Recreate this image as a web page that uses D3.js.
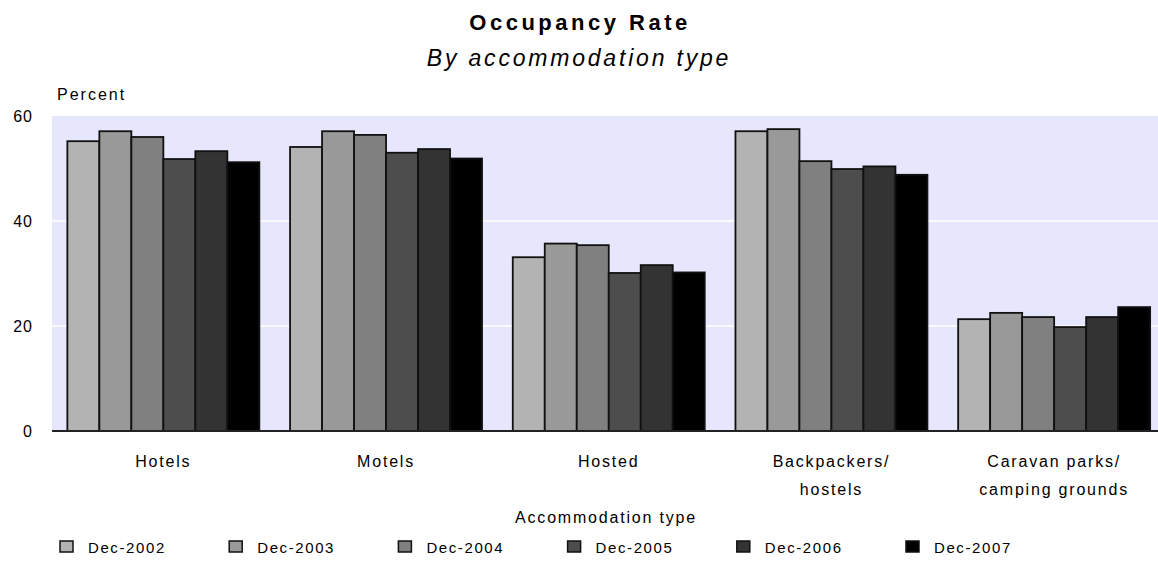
<!DOCTYPE html>
<html>
<head>
<meta charset="utf-8">
<script src="https://cdn.jsdelivr.net/npm/d3@7"></script>
<style>
  body { margin: 0; background: #fff; }
  text { font-family: "Liberation Sans", Arial, sans-serif; fill: #000; }
</style>
</head>
<body>
<div id="chart"></div>
<script>
// Chart data
let categories = ["Hotels", "Motels", "Hosted", "Backpackers/|hostels", "Caravan parks/|camping grounds"];
let years = ["Dec-2002", "Dec-2003", "Dec-2004", "Dec-2005", "Dec-2006", "Dec-2007"];
let dec2002 = [55.2, 54.1, 33.1, 57.1, 21.3];
let dec2003 = [57.1, 57.1, 35.7, 57.5, 22.5];
let dec2004 = [56.0, 56.4, 35.4, 51.4, 21.7];
let dec2005 = [51.8, 53.0, 30.1, 49.9, 19.8];
let dec2006 = [53.3, 53.7, 31.6, 50.4, 21.7];
let dec2007 = [51.2, 51.9, 30.2, 48.8, 23.6];
let yTicks = [0, 20, 40, 60];
let colors = ["#b3b3b3", "#999999", "#808080", "#4d4d4d", "#333333", "#000000"];

let seriesValues = [dec2002, dec2003, dec2004, dec2005, dec2006, dec2007];

let svgWidth = 1158;
let svgHeight = 584;

let plot = { left: 52, right: 1165.5, top: 116, bottom: 431 };

let svg = d3.select("#chart")
  .append("svg")
  .attr("width", svgWidth)
  .attr("height", svgHeight);

// Scales
let xScale = d3.scaleBand()
  .domain(categories)
  .range([plot.left, plot.right])
  .paddingInner(0.138)
  .paddingOuter(0.069);

let xInner = d3.scaleBand()
  .domain(years)
  .range([0, xScale.bandwidth()]);

let yScale = d3.scaleLinear()
  .domain([0, 60])
  .range([plot.bottom, plot.top]);

// Plot background
svg.append("rect")
  .attr("x", plot.left)
  .attr("y", plot.top)
  .attr("width", plot.right - plot.left)
  .attr("height", plot.bottom - plot.top)
  .attr("fill", "#e6e6fc");

// Gridlines
svg.append("g")
  .selectAll("line")
  .data(yTicks.filter(d => d > 0 && d < 60))
  .join("line")
  .attr("x1", plot.left)
  .attr("x2", plot.right)
  .attr("y1", d => yScale(d))
  .attr("y2", d => yScale(d))
  .attr("stroke", "#ffffff")
  .attr("stroke-width", 1.5);

// Bars
let rows = [];
categories.forEach(function(cat, i) {
  years.forEach(function(yr, j) {
    rows.push({ cat: cat, year: yr, value: seriesValues[j][i], color: colors[j] });
  });
});

svg.append("g")
  .selectAll("rect")
  .data(rows)
  .join("rect")
  .attr("x", d => xScale(d.cat) + xInner(d.year))
  .attr("y", d => yScale(d.value))
  .attr("width", xInner.bandwidth())
  .attr("height", d => yScale(0) - yScale(d.value))
  .attr("fill", d => d.color)
  .attr("stroke", "#111")
  .attr("stroke-width", 1.8);

// Baseline
svg.append("line")
  .attr("x1", plot.left)
  .attr("x2", plot.right)
  .attr("y1", yScale(0))
  .attr("y2", yScale(0))
  .attr("stroke", "#222")
  .attr("stroke-width", 2);

// Y axis labels
let leftAxis = d3.axisLeft(yScale).tickValues(yTicks).tickSize(0).tickPadding(19);
let yAxisG = svg.append("g")
  .attr("transform", `translate(${plot.left}, 0)`)
  .call(leftAxis);
yAxisG.select(".domain").remove();
yAxisG.selectAll("text")
  .style("font-family", "Liberation Sans, Arial, sans-serif")
  .style("font-size", "16px")
  .style("letter-spacing", "1px")
  .attr("fill", "#000");

// X axis labels
let xLabels = svg.append("g")
  .selectAll("text")
  .data(categories)
  .join("text")
  .attr("x", d => xScale(d) + xScale.bandwidth() / 2)
  .attr("y", 467)
  .attr("text-anchor", "middle")
  .style("font-size", "16px")
  .style("letter-spacing", "1.8px");

xLabels.selectAll("tspan")
  .data(d => d.split("|"))
  .join("tspan")
  .attr("x", function() { return d3.select(this.parentNode).attr("x"); })
  .attr("dy", (d, i) => i === 0 ? 0 : 28)
  .text(d => d);

// Titles
svg.append("text")
  .attr("x", 580)
  .attr("y", 30)
  .attr("text-anchor", "middle")
  .style("font-size", "22px")
  .style("font-weight", "bold")
  .style("letter-spacing", "3.5px")
  .text("Occupancy Rate");

svg.append("text")
  .attr("x", 579)
  .attr("y", 66)
  .attr("text-anchor", "middle")
  .style("font-size", "23px")
  .style("font-style", "italic")
  .style("letter-spacing", "2.8px")
  .text("By accommodation type");

svg.append("text")
  .attr("x", 57)
  .attr("y", 100)
  .style("font-size", "16px")
  .style("letter-spacing", "2px")
  .text("Percent");

svg.append("text")
  .attr("x", 606)
  .attr("y", 523)
  .attr("text-anchor", "middle")
  .style("font-size", "16px")
  .style("letter-spacing", "1.8px")
  .text("Accommodation type");

// Legend
let legendX = d3.scalePoint()
  .domain(years)
  .range([60, 906]);

let legend = svg.append("g")
  .selectAll("g")
  .data(years)
  .join("g")
  .attr("transform", d => `translate(${legendX(d)}, 541)`);

legend.append("rect")
  .attr("width", 13)
  .attr("height", 11)
  .attr("fill", (d, i) => colors[i])
  .attr("stroke", "#111")
  .attr("stroke-width", 1.5);

legend.append("text")
  .attr("x", 28)
  .attr("y", 12)
  .style("font-size", "15px")
  .style("letter-spacing", "1.6px")
  .text(d => d);
</script>
</body>
</html>
